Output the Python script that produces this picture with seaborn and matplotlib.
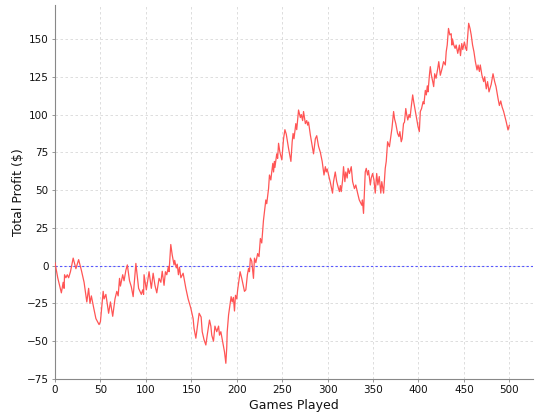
import numpy as np
import pandas as pd
import matplotlib
matplotlib.use("Agg")
import matplotlib.pyplot as plt
import seaborn as sns

# game number / running profit
games = [0, 3, 7, 9, 10, 10.5, 12, 13.5, 15, 17, 20, 23, 26, 29, 32, 35, 37, 38.5, 40, 42.6,
         45, 48.5, 50, 53, 54, 56, 59, 61, 63.5, 66, 68, 69.5, 71, 72, 74.5, 76, 78, 79.6,
         82, 84, 86, 89, 92, 95, 96.5, 97.5, 98, 100.5, 103.5, 106, 108, 110, 112, 114.5,
         116.5, 118, 120, 121.5, 123, 124.8, 125.5, 127.4, 129, 131, 131.7, 133.5, 134.5,
         135.8, 137, 138.5, 141, 144, 146.5, 149.4, 152, 153, 155, 158.6, 160.8, 162, 164,
         166, 167.5, 170, 171.5, 172.5, 174.4, 176, 178, 180, 181, 182.5, 183.5, 186.5, 188,
         189, 189.5, 191, 192.7, 193.8, 195, 196.3, 197.5, 198.6, 200, 201, 203.7, 205.5,
         208.5, 210, 211.7, 213, 214, 215, 216.5, 218.4, 219.5, 221, 223, 224.5, 226, 227.5,
         229.4, 231, 232, 233, 235, 236, 237.5, 238.5, 239.7, 240.5, 241.5, 242, 244, 245,
         246, 247.5, 249.6, 251.5, 253, 254.5, 257, 259.6, 261, 262, 263, 264, 265, 266, 268,
         270, 271, 272.5, 273.5, 274.5, 275.5, 277, 278, 279, 281, 284.5, 286.5, 288, 290,
         292, 294, 296, 297.5, 298.5, 299.5, 302.8, 305.4, 306.5, 308.4, 310, 312, 313, 314,
         315, 316.5, 317.5, 319, 320, 321.5, 322.5, 324, 326, 327.5, 329.5, 331, 333, 334.8,
         337.6, 338.3, 339.5, 340.5, 341.4, 342.5, 344, 345, 347, 348, 349.5, 351, 352.4,
         354, 355.3, 356.8, 358.5, 359.6, 361.6, 363.4, 364.5, 366, 368, 370.8, 372.6, 373.7,
         375, 377, 378.5, 379.5, 381, 382, 383.5, 384.6, 386, 387, 388.2, 389.6, 390.7, 391.8,
         393.6, 394.7, 396, 397.5, 399.5, 400.9, 402, 403.4, 405, 406, 407.5, 408.6, 409.7,
         410.5, 412, 413, 414.2, 415.6, 416.7, 417.8, 419.3, 421.2, 422.3, 424, 426, 427.6,
         429.5, 430.5, 431.6, 433, 434.5, 436, 436.7, 437.4, 438.8, 440.3, 441.4, 443.2, 445,
         446.2, 447.6, 448.7, 450.5, 452, 453, 455.2, 456.7, 458, 459.5, 461, 462.6, 464.4,
         465.5, 467, 468, 469.8, 471.7, 472.8, 474.6, 476, 477.6, 480, 482, 483.8, 485.3,
         487.5, 489, 490.5, 492, 493.7, 496.5, 498.5, 500]

profit = [2, -8, -18, -11, -15, -6, -8, -6, -8, -4, 5, -2, 4, -3, -11, -24, -15, -25, -20, -28,
          -35, -39, -37, -17, -22, -19, -31.5, -24, -33.5, -22, -17, -20, -8.4, -13.5, -6, -10, -3, 0.5,
          -10, -14, -20.5, 1.5, -15, -19, -16, -19, -6, -16, -4, -15, -5, -13, -18, -8.4,
          -11, -3.7, -13, -4, -6, -0.5, -4, 14, 7, 0.5, 3.5, -1.5, 1,
          -6, -1, -8, -5, -15, -22, -28, -35, -41.5, -48, -31.5, -34, -43.7, -49,
          -52.5, -46, -36, -40, -46, -50, -40, -43.7, -40, -46, -43.7, -47, -57, -64.6,
          -54, -43.7, -32.6, -25, -20.5, -24, -21, -30, -19.6, -22, -16, -4, -8.4,
          -17, -16, -6, -1.8, -4, 5, 3, -8.4, 5, 2, 8, 6, 18, 15,
          30, 38, 43.5, 41, 51, 60, 56.7, 62, 67.7, 62, 69, 65, 74, 71,
          81, 75, 70, 84, 90, 87, 77.6, 69, 82, 87.5, 84, 89, 94, 90, 103,
          98, 100, 96, 102, 98, 94, 96, 93, 95, 86.5, 74, 84, 86, 79,
          75, 69, 60, 65.5, 62, 64, 55.6, 48, 55.6, 62, 55.6, 51, 49, 53,
          49, 56.7, 65.5, 55.6, 62, 58, 64.4, 61, 65.5, 55.6, 51, 53.4, 48, 43.5,
          40, 43.5, 34.6, 49, 62, 64.4, 60, 63, 53.4, 58, 61, 56.7, 48,
          61, 53.4, 59, 48, 55.6, 48, 64.4, 69, 82, 78.7, 91, 102, 97,
          94, 87.5, 85.4, 88.7, 82, 84, 94, 95, 104, 100, 96.4, 100, 98, 104,
          113, 108.5, 104, 99, 92, 88.7, 102, 104, 108.5, 107, 116, 113, 119,
          115, 126, 131.7, 126, 122, 118.5, 127, 124, 130.6, 135, 126, 130.6, 135,
          132.8, 141.6, 146, 157, 152.7, 153.5, 146, 150, 146, 143.8, 146, 140.5, 146,
          139, 147, 143, 148, 143.8, 142.5, 160.4, 157, 152.7, 146, 141.6, 135, 129.5,
          132.8, 128.5, 132.8, 126, 121.8, 125, 117, 121.8, 115, 120, 127, 121.8, 118.5,
          110.7, 106, 109, 105, 102, 95.3, 89.8, 93]

df = pd.DataFrame({"Games Played": games, "Total Profit": profit})

sns.set_theme(style="white")
plt.rcParams["font.family"] = ["DejaVu Sans"]

fig = plt.figure(figsize=(5.4, 4.2), dpi=100)
ax = fig.add_axes([55 / 540, 1 - 379 / 420, (533 - 55) / 540, (379 - 5) / 420])

ax.grid(True, color="#d8d8d8", linestyle=(0, (3, 3)), linewidth=0.6)
ax.set_axisbelow(True)

ax.axhline(0, color="#5555ff", linestyle=(0, (2, 2)), linewidth=0.8, zorder=2)
sns.lineplot(data=df, x="Games Played", y="Total Profit", estimator=None,
             color="#ff5555", linewidth=0.9, ax=ax, zorder=3)

ax.set_xlim(0, 526)
ax.set_ylim(-75, 172.5)
ax.set_xticks(np.arange(0, 501, 50))
ax.set_yticks(np.arange(-75, 151, 25))

for s in ["top", "right"]:
    ax.spines[s].set_visible(False)
for s in ["left", "bottom"]:
    ax.spines[s].set_color("#888888")
    ax.spines[s].set_linewidth(0.8)

ax.tick_params(axis="both", which="both", direction="out", length=2.5, width=0.6,
               color="#888888", labelsize=7.5, labelcolor="#111111", pad=2,
               bottom=True, left=True)
ax.set_xlabel("Games Played", fontsize=9, color="#111111", labelpad=3)
ax.set_ylabel(r"Total Profit (\$)", fontsize=9, color="#111111", labelpad=1)

fig.savefig("out.png", dpi=100)
